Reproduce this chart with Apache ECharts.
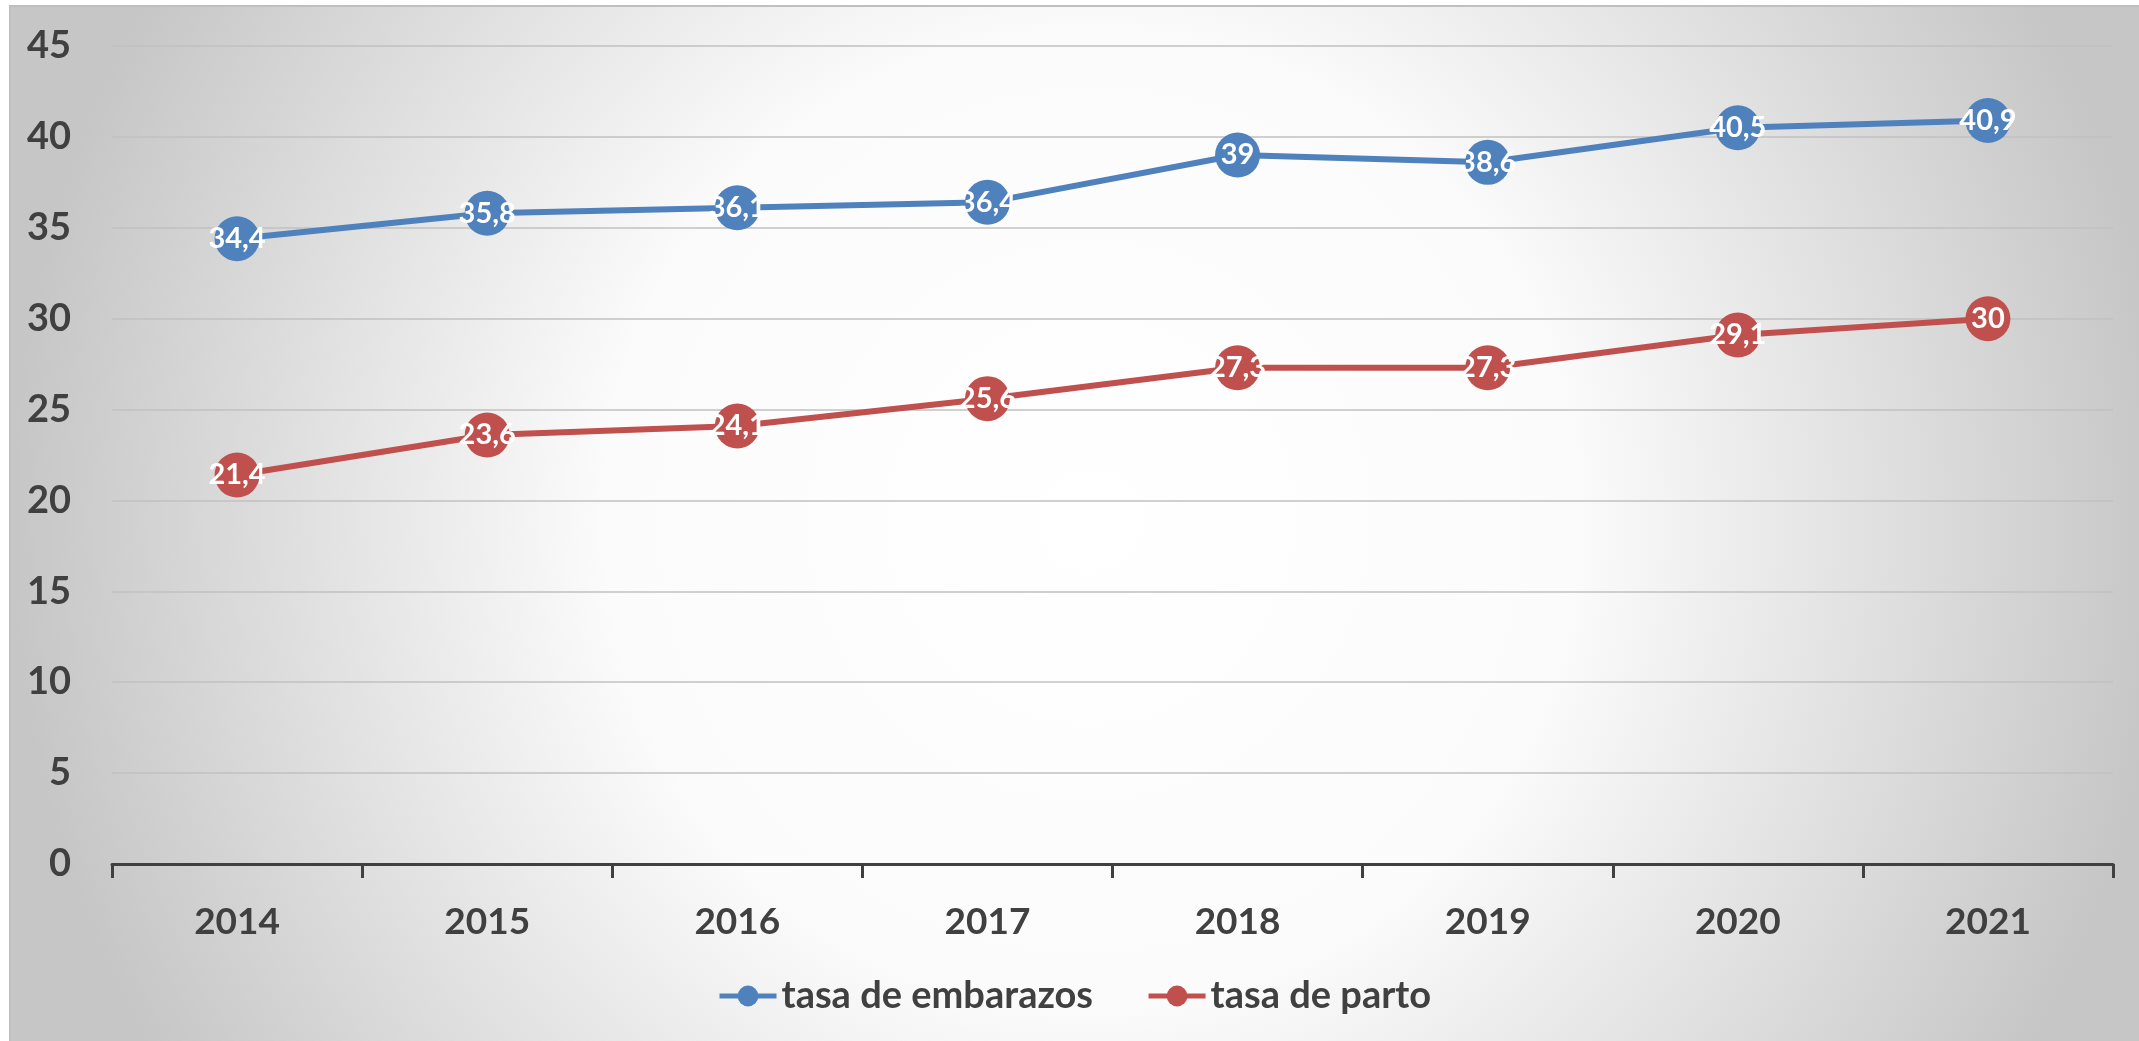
<!DOCTYPE html>
<html>
<head>
<meta charset="utf-8">
<script src="https://cdn.jsdelivr.net/npm/echarts@6/dist/echarts.min.js"></script>
<style>
  html, body { margin: 0; padding: 0; background: #fff; }
  #chart { width: 2139px; height: 1041px; }
</style>
</head>
<body>
<div id="chart"></div>
<script>
// datos
const years = ['2014', '2015', '2016', '2017', '2018', '2019', '2020', '2021'];
const tasaEmbarazos = [34.4, 35.8, 36.1, 36.4, 39, 38.6, 40.5, 40.9];
const tasaParto = [21.4, 23.6, 24.1, 25.6, 27.3, 27.3, 29.1, 30];
const yTicks = { min: 0, max: 45, interval: 5 };

const FONT = 'Lato, "Open Sans", sans-serif';
const TEXT = '#404040';

const chart = echarts.init(document.getElementById('chart'));

// etiqueta con coma decimal
const fmt = p => String(p.value).replace('.', ',');

const makeSeries = (name, data, color) => ({
  name: name,
  type: 'line',
  data: data,
  symbol: 'circle',
  symbolSize: 45,
  lineStyle: { width: 6, color: color },
  itemStyle: { color: color },
  label: {
    show: true,
    position: 'inside',
    formatter: fmt,
    color: '#fff',
    fontFamily: FONT,
    fontWeight: 'bold',
    fontSize: 29
  },
  z: 3
});

const option = {
  animation: false,
  graphic: {
    elements: [{
      type: 'rect',
      silent: true,
      z: -10,
      shape: { x: 10, y: 6, width: 2140, height: 1045 },
      style: {
        stroke: '#bfbfbf',
        lineWidth: 2,
        fill: new echarts.graphic.RadialGradient(1090, 520, 1080, [
          { offset: 0, color: '#ffffff' },
          { offset: 0.45, color: '#fbfbfb' },
          { offset: 1, color: '#c6c6c6' }
        ], true)
      }
    }]
  },
  grid: { left: 112, right: 26, top: 46, bottom: 177 },
  legend: {
    left: 712,
    top: 972,
    itemWidth: 57,
    itemHeight: 26,
    itemGap: 53,
    lineStyle: { width: 5 },
    textStyle: { fontFamily: FONT, fontSize: 38, fontWeight: 'bold', color: TEXT },
    data: ['tasa de embarazos', 'tasa de parto']
  },
  xAxis: {
    type: 'category',
    data: years,
    boundaryGap: true,
    axisLine: { lineStyle: { color: TEXT, width: 3 } },
    axisTick: { show: true, length: 14, lineStyle: { color: TEXT, width: 3 } },
    axisLabel: { color: TEXT, fontFamily: FONT, fontWeight: 'bold', fontSize: 37, margin: 40 }
  },
  yAxis: {
    type: 'value',
    min: yTicks.min,
    max: yTicks.max,
    interval: yTicks.interval,
    axisLine: { show: false },
    axisTick: { show: false },
    splitLine: { lineStyle: { color: '#c0c0c0', width: 1.5 } },
    axisLabel: { color: TEXT, fontFamily: FONT, fontWeight: 'bold', fontSize: 38, margin: 41 }
  },
  series: [
    makeSeries('tasa de embarazos', tasaEmbarazos, '#4f81bd'),
    makeSeries('tasa de parto', tasaParto, '#c0504d')
  ]
};

chart.setOption(option);
</script>
</body>
</html>
